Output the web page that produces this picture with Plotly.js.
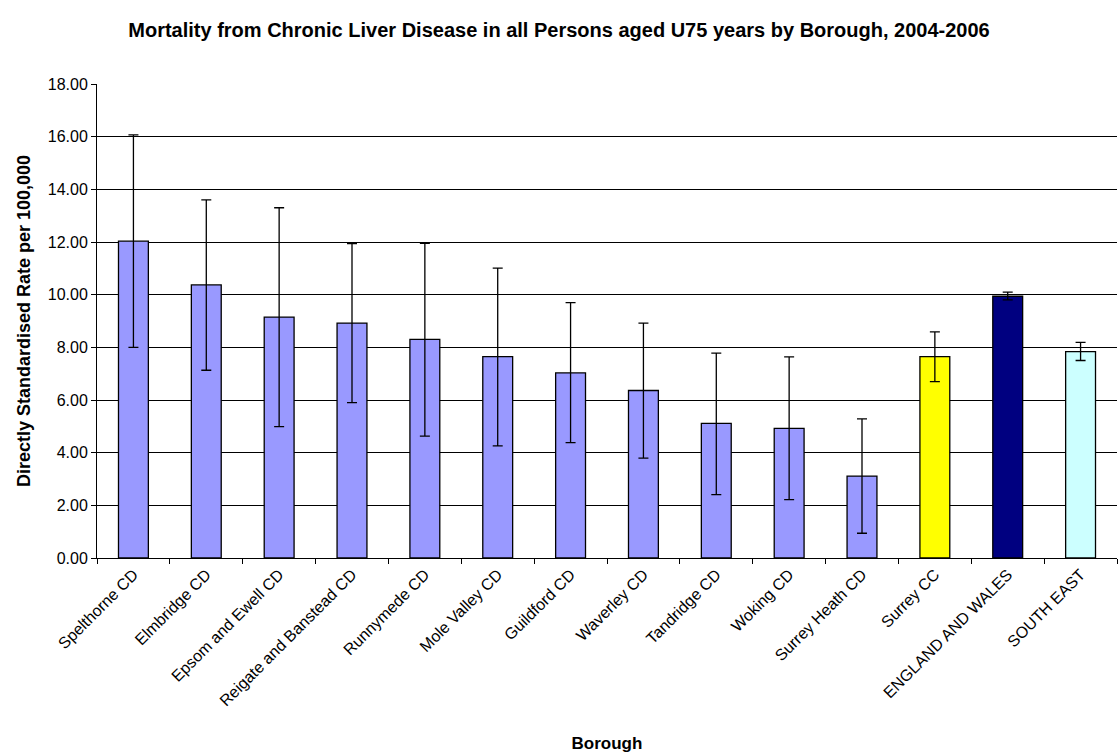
<!DOCTYPE html>
<html><head><meta charset="utf-8">
<script src="https://cdn.plot.ly/plotly-3.0.1.min.js"></script>
<style>body{margin:0}</style></head><body>
<div id="chart" style="width:1118px;height:753px"></div>
<script>
const categories = ["Spelthorne CD","Elmbridge CD","Epsom and Ewell CD","Reigate and Banstead CD","Runnymede CD","Mole Valley CD","Guildford CD","Waverley CD","Tandridge CD","Woking CD","Surrey Heath CD","Surrey CC","ENGLAND AND WALES","SOUTH EAST"];
const rates = [12.03,10.37,9.15,8.92,8.30,7.65,7.03,6.36,5.11,4.92,3.11,7.65,9.94,7.84];
const upperCI = [16.07,13.60,13.30,11.94,11.95,11.01,9.70,8.92,7.78,7.64,5.28,8.59,10.10,8.19];
const lowerCI = [8.00,7.13,4.99,5.90,4.63,4.26,4.38,3.79,2.41,2.22,0.94,6.70,9.80,7.50];
const barColors = ["#9999FF","#9999FF","#9999FF","#9999FF","#9999FF","#9999FF","#9999FF","#9999FF","#9999FF","#9999FF","#9999FF","#FFFF00","#000080","#CCFFFF"];
const tickVals = [0,2,4,6,8,10,12,14,16,18];

Plotly.newPlot('chart',[{
  type:'bar', x:categories, y:rates,
  marker:{color:barColors, line:{color:'#000', width:1.3}},
  error_y:{type:'data', symmetric:false,
    array:upperCI.map((u,i)=>u-rates[i]),
    arrayminus:rates.map((r,i)=>r-lowerCI[i]),
    color:'#000', thickness:1.3, width:5}
}],{
  width:1118, height:753,
  margin:{l:97,r:1,t:84,b:195},
  paper_bgcolor:'#fff', plot_bgcolor:'#fff',
  font:{family:'Liberation Sans, Arial', size:15, color:'#000'},
  bargap:0.59,
  showlegend:false,
  title:{text:'<b>Mortality from Chronic Liver Disease in all Persons aged U75 years by Borough, 2004-2006</b>', x:0.5, xanchor:'center', yref:'paper', y:1, yanchor:'bottom', pad:{b:47}, font:{size:20}},
  xaxis:{tickangle:-45, showline:true, linecolor:'#000', ticks:'outside', ticklen:5, tickcolor:'#000', tickson:'boundaries',
    title:{text:'<b>Borough</b>', font:{size:17}, standoff:28}, tickfont:{size:16}},
  yaxis:{range:[0,18], tickvals:tickVals, tickformat:'.2f', showline:true, linecolor:'#000',
    ticks:'outside', ticklen:5, tickcolor:'#000', gridcolor:'#000', gridwidth:1, zeroline:false,
    title:{text:'<b>Directly Standardised Rate per 100,000</b>', font:{size:18}, standoff:12}, tickfont:{size:16}}
},{displayModeBar:false});
</script></body></html>
